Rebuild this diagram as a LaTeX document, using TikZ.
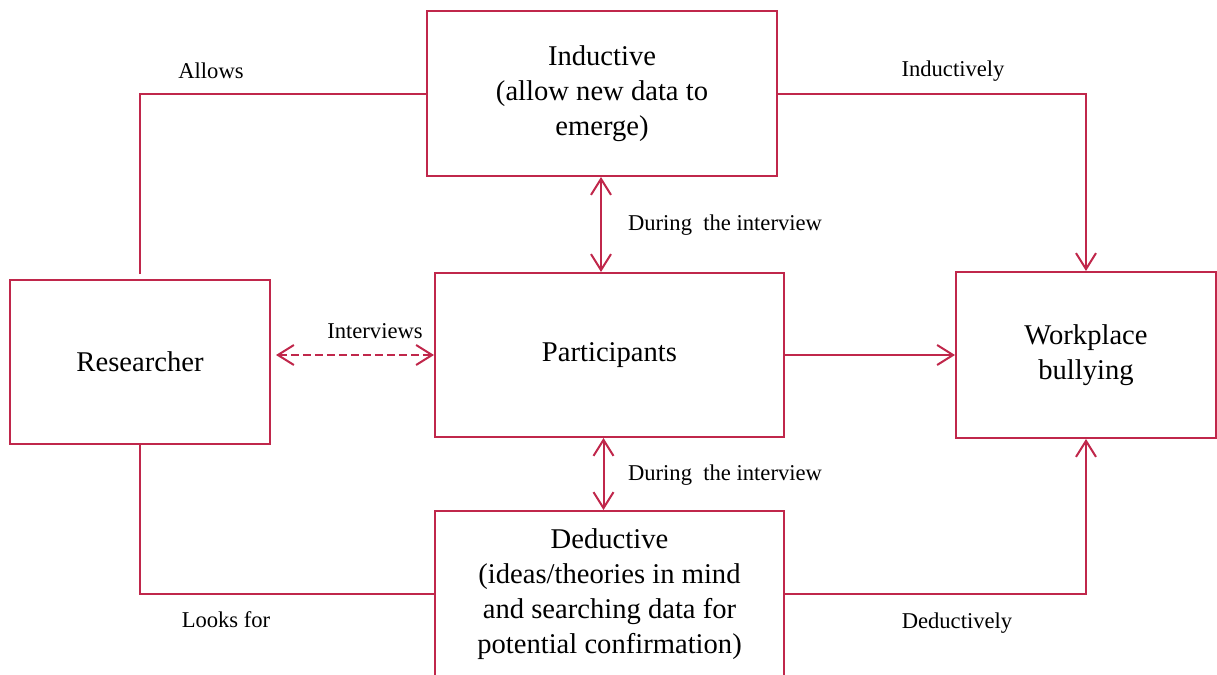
\documentclass[tikz,border=0pt]{standalone}
\usepackage{fontspec}
\setmainfont{Liberation Serif}
\usepackage{tikz}
\usetikzlibrary{arrows.meta}

\definecolor{crim}{RGB}{192,39,75}

\tikzset{
  box/.style={draw=crim, line width=1pt, align=center, inner sep=0pt,
    font=\fontsize{14.3}{17.5}\selectfont},
  lbl/.style={font=\fontsize{11.3}{14}\selectfont, inner sep=0pt},
  conn/.style={draw=crim, line width=1pt},
  tip/.style={-{Straight Barb[length=8pt,width=10pt,line width=1pt]}},
  tips/.style={{Straight Barb[length=8pt,width=10pt,line width=1pt]}-{Straight Barb[length=8pt,width=10pt,line width=1pt]}}
}

\begin{document}
\begin{tikzpicture}[x=0.5pt,y=-0.5pt]

\useasboundingbox (0,0) rectangle (1217,675);

%boxes
\node[box, minimum width=175pt, minimum height=82.5pt] (ind) at (602,93.5)
   {Inductive\\(allow new data to\\emerge)};
\node[box, minimum width=130pt, minimum height=82pt] (res) at (140,362) {Researcher};
\node[box, minimum width=174.5pt, minimum height=82pt] (part) at (609.5,355) {Participants};
\node[box, minimum width=130pt, minimum height=83pt] (wb) at (1086,355) {Workplace\\bullying};
\node[box, minimum width=174.5pt, minimum height=83pt] (ded) at (609.5,594)
   {Deductive\\(ideas/theories in mind\\and searching data for\\potential confirmation)};

%connectors
\draw[conn] ([yshift=2.5pt]res.north) |- (ind.west);
\draw[conn, tip] (ind.east) -| (wb.north);
\draw[conn, tips] ([xshift=-0.5pt]ind.south) -- ([xshift=-0.5pt]ind.south |- part.north);
\draw[conn, tips, dashed, dash pattern=on 4pt off 2pt] ([xshift=2.5pt]res.east |- part.west) -- (part.west);
\draw[conn, tip] (part.east) -- (wb.west);
\draw[conn, tips] ([xshift=-3pt]part.south) -- ([xshift=-3pt]ded.north);
\draw[conn] (res.south) |- (ded.west);
\draw[conn, tip] (ded.east) -| (wb.south);

%labels
\node[lbl] (lallows) at (211,71) {Allows};
\node[lbl] (linduct) at (953,71) {Inductively};
\node[lbl] (lduring1) at (725,225) {During\ \ the interview};
\node[lbl] (linterv) at (375,331) {Interviews};
\node[lbl] (lduring2) at (725,475) {During\ \ the interview};
\node[lbl] (llooks) at (226,620) {Looks for};
\node[lbl] (ldeduct) at (957,623) {Deductively};

\end{tikzpicture}
\end{document}
